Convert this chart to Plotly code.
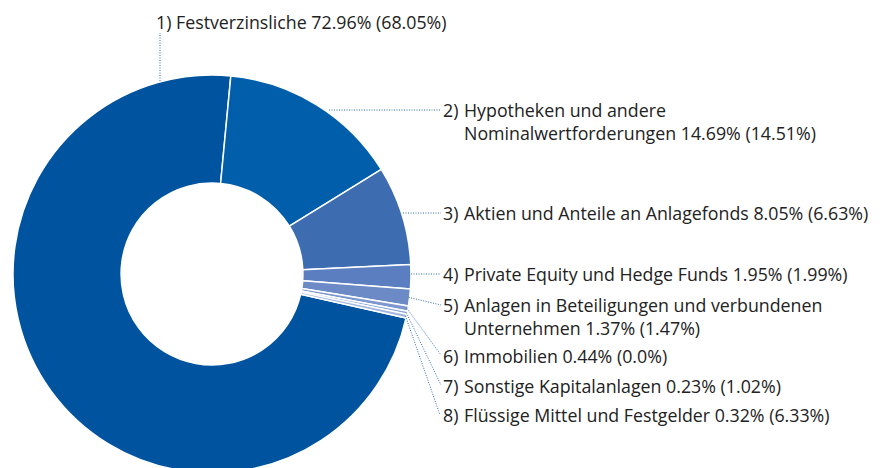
import math
import plotly.graph_objects as go

# ---- data ----
numbers = [1, 2, 3, 4, 5, 6, 7, 8]
names = [
    "Festverzinsliche",
    "Hypotheken und andere|Nominalwertforderungen",
    "Aktien und Anteile an Anlagefonds",
    "Private Equity und Hedge Funds",
    "Anlagen in Beteiligungen und verbundenen|Unternehmen",
    "Immobilien",
    "Sonstige Kapitalanlagen",
    "Flüssige Mittel und Festgelder",
]
values = [72.96, 14.69, 8.05, 1.95, 1.37, 0.44, 0.23, 0.32]
prior = ["68.05", "14.51", "6.63", "1.99", "1.47", "0.0", "1.02", "6.33"]
colors = ["#00539f", "#005eaa", "#3d6cb0", "#5a7ec0", "#6c8ac6", "#7d98cf", "#8fa7d7", "#a3b6df"]

W, H = 891, 473   # window is 468 high; donut bottom is cut off like in the original
ROT = 102.8
CX, CY, R = 212, 274, 199

fig = go.Figure()
fig.add_trace(go.Pie(
    values=values,
    labels=[f"{n})" for n in numbers],
    sort=False,
    direction="clockwise",
    rotation=ROT,
    hole=0.457,
    marker=dict(colors=colors, line=dict(color="white", width=1.5)),
    textinfo="none",
    hoverinfo="label+value",
    showlegend=False,
    domain=dict(x=[(CX - R) / W, (CX + R) / W], y=[0, 2 * R / H]),
))


def px(x):
    return x / W


def py(y):
    return 1 - y / H


# slice mid angles (clockwise from 12 o'clock) -> edge points for leaders
total = sum(values)
mids = []
a = ROT
for v in values:
    span = v / total * 360
    mids.append(a + span / 2)
    a += span


def edge(i, r=R - 1):
    t = math.radians(mids[i])
    return (CX + r * math.sin(t), CY - r * math.cos(t))


# label positions (pixels from top-left): number x, body x, first-line y
num_x = [155, 442, 442, 442, 442, 442, 442, 442]
body_x = [175, 463, 463, 463, 463, 463, 463, 463]
line_y = [22, 110, 213, 274, 305, 356, 386, 415]
leaders = [
    ((160, 81), (160, 33)),
    ((329, 110), (441, 110)),
    ((403, 213), (441, 213)),
    ((411, 274), (441, 274)),
    (edge(4), (441, 305)),
    (edge(5), (441, 355)),
    (edge(6), (441, 385)),
    (edge(7), (440, 415)),
]
FS = 17.8
LINE_H = FS * 1.3
font = dict(family="Open Sans", size=FS, color="#222222")

for i, n in enumerate(numbers):
    parts = names[i].split("|")
    tail = f"{values[i]:.2f}% ({prior[i]}%)"
    lines = parts[:-1] + [parts[-1] + " " + tail]
    y0 = line_y[i]
    block_center = y0 + (len(lines) - 1) * LINE_H / 2
    fig.add_annotation(
        x=px(num_x[i]), y=py(y0), xref="paper", yref="paper",
        text=f"{n})", showarrow=False, xanchor="left", yanchor="middle",
        font=font, borderpad=0,
    )
    fig.add_annotation(
        x=px(body_x[i]), y=py(block_center), xref="paper", yref="paper",
        text="<br>".join(lines), showarrow=False, xanchor="left", yanchor="middle",
        align="left", font=font, borderpad=0,
    )
    (xa, ya), (xb, yb) = leaders[i]
    fig.add_shape(type="line", xref="paper", yref="paper",
                  x0=px(xa), y0=py(ya), x1=px(xb), y1=py(yb),
                  line=dict(color="#2a6ebb", width=1, dash="1px,1.5px"))

fig.update_layout(
    width=W, height=H,
    margin=dict(l=0, r=0, t=0, b=0),
    paper_bgcolor="white", plot_bgcolor="white",
)

fig.write_html(
    "out.html",
    config={"displayModeBar": False},
    post_script=(
        "document.body.style.margin='0';"
        "document.body.style.overflow='hidden';"
        "document.documentElement.style.overflow='hidden';"
    ),
)
